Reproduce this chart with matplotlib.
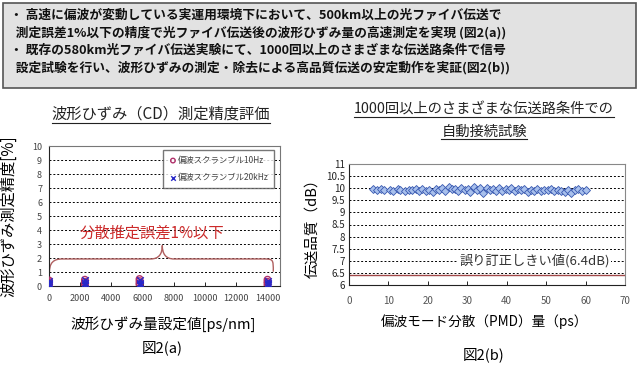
import numpy as np
import matplotlib
matplotlib.use("Agg")
import matplotlib.pyplot as plt
from matplotlib.lines import Line2D
from matplotlib.patches import Rectangle, PathPatch
from matplotlib.path import Path

plt.rcParams['font.family'] = ['Noto Sans CJK JP', 'DejaVu Sans']

# ---- data ----
summary_lines = [
    "・ 高速に偏波が変動している実運用環境下において、500km以上の光ファイバ伝送で",
    "  測定誤差1%以下の精度で光ファイバ伝送後の波形ひずみ量の高速測定を実現 (図2(a))",
    "・ 既存の580km光ファイバ伝送実験にて、1000回以上のさまざまな伝送路条件で信号",
    "  設定試験を行い、波形ひずみの測定・除去による高品質伝送の安定動作を実証(図2(b))",
]

# Fig 2(a): CD setting value vs. measurement accuracy
cd_10hz = [0, 0, 0, 0, 2300, 2300, 2300, 2300, 5800, 5800, 5800, 5800,
           14000, 14000, 14000, 14000]
acc_10hz = [0.1, 0.2, 0.3, 0.4, 0.05, 0.15, 0.3, 0.45, 0.1, 0.2, 0.35, 0.5,
            0.05, 0.2, 0.3, 0.45]
cd_20khz = [0, 0, 0, 0, 2300, 2300, 2300, 2300, 5800, 5800, 5800, 5800,
            14000, 14000, 14000, 14000]
acc_20khz = [0.05, 0.15, 0.25, 0.35, 0.1, 0.2, 0.25, 0.4, 0.05, 0.15, 0.25, 0.4,
             0.1, 0.15, 0.25, 0.35]
cd_ticks = [0, 2000, 4000, 6000, 8000, 10000, 12000, 14000]

# Fig 2(b): PMD vs. transmission quality
pmd = [6.0, 7.2, 8.1, 9.0, 10.3, 11.1, 12.4, 13.0, 14.2, 15.1, 15.9, 17.0,
       17.8, 18.6, 19.5, 20.3, 21.2, 22.0, 22.9, 23.6, 24.4, 25.3, 26.1, 26.8,
       27.7, 28.4, 29.3, 30.1, 30.8, 31.6, 32.5, 33.2, 34.0, 34.9, 35.7, 36.4,
       37.3, 38.1, 38.8, 39.7, 40.5, 41.2, 42.1, 42.9, 43.6, 44.5, 45.3, 46.2,
       47.0, 47.8, 48.7, 49.5, 50.4, 51.3, 52.1, 53.0, 53.8, 54.7, 55.5, 56.4,
       57.3, 58.2, 59.1, 60.0]
quality = [9.95, 9.93, 9.96, 9.92, 9.94, 9.90, 9.95, 9.92, 9.89, 9.94, 9.91, 9.95,
           9.88, 9.96, 9.90, 9.93, 9.86, 9.97, 9.92, 10.00, 9.90, 10.03, 9.95, 9.98,
           9.88, 10.02, 9.93, 9.97, 9.85, 10.04, 9.92, 9.99, 9.82, 10.01, 9.94, 9.98,
           9.90, 10.02, 9.87, 9.96, 9.92, 10.00, 9.88, 9.95, 9.91, 9.98, 9.86, 9.94,
           9.90, 9.96, 9.89, 9.93, 9.91, 9.95, 9.88, 9.93, 9.90, 9.84, 9.94, 9.80,
           9.92, 9.95, 9.90, 9.92]
threshold = 6.4

fig = plt.figure(figsize=(6.4, 3.78), dpi=100)

# ---- top summary box ----
fig.add_artist(Rectangle((3 / 640, 1 - 88 / 378), 633 / 640, 85 / 378,
                         transform=fig.transFigure, facecolor='#e2e2e2',
                         edgecolor='#555555', linewidth=1.2))
for i, line in enumerate(summary_lines):
    fig.text(10 / 640, 1 - (15.5 + 17.3 * i) / 378, line, fontsize=9.2,
             fontweight='bold', va='center', ha='left', color='#111111')

# ---- Fig 2(a) ----
ax1 = fig.add_axes([49 / 640, 1 - 286 / 378, 231 / 640, 140 / 378])
ax1.scatter(cd_10hz, acc_10hz, marker='o', s=22, facecolors='none',
            edgecolors='#b0306a', linewidths=1, label='偏波スクランブル10Hz', zorder=3)
ax1.scatter(cd_20khz, acc_20khz, marker='x', s=22, color='#2828c8',
            linewidths=1, label='偏波スクランブル20kHz', zorder=4)
ax1.set_xlim(0, 14800)
ax1.set_ylim(0, 10)
ax1.set_xticks(cd_ticks)
ax1.set_yticks(range(0, 11))
for yv in range(1, 10):
    ax1.axhline(yv, color='black', lw=0.7, ls=(0, (2, 2)), zorder=1)
ax1.tick_params(axis='x', direction='in', length=3, labelsize=6.5,
                labelcolor='#444444', pad=6, width=0.6)
ax1.tick_params(axis='y', length=0, labelsize=6.5, labelcolor='#444444', pad=5)
for sp in ax1.spines.values():
    sp.set_color('#777777')
    sp.set_linewidth(0.8)
ax1.spines['left'].set_color('#222222')
ax1.spines['bottom'].set_color('#222222')
leg = ax1.legend(loc='upper right', bbox_to_anchor=(0.975, 0.972), fontsize=6,
                 frameon=True, fancybox=False, edgecolor='#555555',
                 handletextpad=0.1, borderpad=0.7, labelspacing=1.0,
                 handlelength=0.9, borderaxespad=0, markerscale=0.7)
for t in leg.get_texts():
    t.set_color('#444444')

# curly brace over the points
brace_verts = [(30, 1.02), (30, 1.93), (600, 1.93), (900, 1.93),
               (6500, 1.93), (7050, 1.93), (7260, 2.3), (7260, 2.9),
               (7260, 2.3), (7470, 1.93), (8020, 1.93),
               (13700, 1.93), (14370, 1.93), (14370, 1.93), (14370, 1.02)]
brace_codes = [Path.MOVETO, Path.CURVE4, Path.CURVE4, Path.CURVE4,
               Path.LINETO, Path.CURVE4, Path.CURVE4, Path.CURVE4,
               Path.CURVE4, Path.CURVE4, Path.CURVE4,
               Path.LINETO, Path.CURVE4, Path.CURVE4, Path.CURVE4]
ax1.add_patch(PathPatch(Path(brace_verts, brace_codes), facecolor='none',
                        edgecolor='#b06060', lw=1.0, zorder=2))
ax1.text(6600, 3.8, '分散推定誤差1%以下', fontsize=11, color='#cc2a2a',
         ha='center', va='center', zorder=5)

fig.text(9 / 640, 1 - 216 / 378, '波形ひずみ測定精度[%]', fontsize=11,
         rotation=90, ha='center', va='center')
fig.text(163 / 640, 1 - 324 / 378, '波形ひずみ量設定値[ps/nm]', fontsize=10.5,
         ha='center', va='center')
fig.text(162 / 640, 1 - 348 / 378, '図2(a)', fontsize=10.5, ha='center', va='center')
title1 = fig.text(161 / 640, 1 - 114 / 378, '波形ひずみ（CD）測定精度評価',
                  fontsize=11, ha='center', va='center', color='#222222')

# ---- Fig 2(b) ----
ax2 = fig.add_axes([349 / 640, 1 - 285 / 378, 276 / 640, 121 / 378])
ax2.plot(pmd, quality, color='#2040a0', lw=0.8, marker='D', markersize=4.5,
         markerfacecolor='#a8c0ec', markeredgecolor='#3858b0',
         markeredgewidth=0.6, zorder=3)
ax2.axhline(threshold, color='#a04848', lw=1.0, zorder=2)
ax2.set_xlim(0, 70)
ax2.set_ylim(6, 11)
ax2.set_xticks(range(0, 71, 10))
ax2.set_yticks(np.arange(6, 11.01, 0.5))
ax2.set_yticklabels(['6', '6.5', '7', '7.5', '8', '8.5', '9', '9.5', '10', '10.5', '11'])
for yv in np.arange(6.5, 10.51, 0.5):
    ax2.axhline(yv, color='black', lw=0.7, ls=(0, (2, 2)), zorder=1)
ax2.tick_params(axis='x', direction='in', length=3, labelsize=7,
                labelcolor='#555555', pad=8, width=0.6)
ax2.tick_params(axis='y', length=0, labelsize=7, labelcolor='#222222', pad=3)
for sp in ax2.spines.values():
    sp.set_color('#888888')
    sp.set_linewidth(0.8)
ax2.spines['left'].set_color('#222222')
ax2.spines['bottom'].set_color('#222222')
ax2.text(47, 7.0, '誤り訂正しきい値(6.4dB)', fontsize=9.5, color='#333333',
         ha='center', va='center', zorder=4,
         bbox=dict(facecolor='white', edgecolor='none', pad=1))

fig.text(312 / 640, 1 - 225 / 378, '伝送品質（dB）', fontsize=10.5,
         rotation=90, ha='center', va='center')
fig.text(484 / 640, 1 - 322 / 378, '偏波モード分散（PMD）量（ps）', fontsize=9.8,
         ha='center', va='center')
fig.text(484 / 640, 1 - 355 / 378, '図2(b)', fontsize=10.5, ha='center', va='center')
title2a = fig.text(484 / 640, 1 - 110 / 378, '1000回以上のさまざまな伝送路条件での',
                   fontsize=10.3, ha='center', va='center', color='#222222')
title2b = fig.text(484 / 640, 1 - 132 / 378, '自動接続試験',
                   fontsize=10.3, ha='center', va='center', color='#222222')

# underline the chart titles
fig.canvas.draw()
renderer = fig.canvas.get_renderer()
for t in [title1, title2a, title2b]:
    bb = t.get_window_extent(renderer).transformed(fig.transFigure.inverted())
    fig.add_artist(Line2D([bb.x0, bb.x1], [bb.y0, bb.y0],
                          transform=fig.transFigure, color='#222222', lw=0.8))

fig.savefig('out.png', dpi=100)
